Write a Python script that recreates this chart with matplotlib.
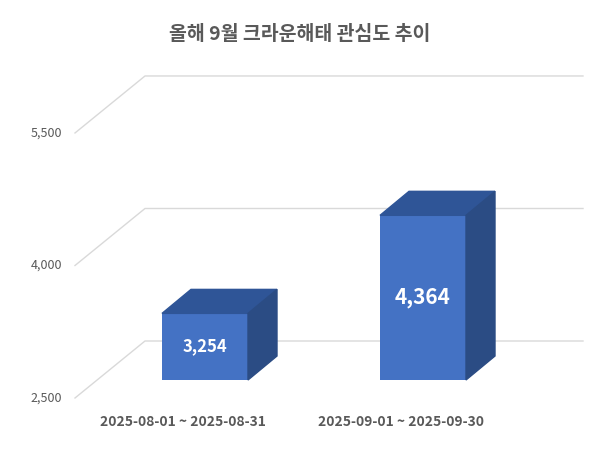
import matplotlib
matplotlib.use("Agg")
import matplotlib.pyplot as plt
from matplotlib.patches import Polygon

plt.rcParams['font.family'] = ['Noto Sans CJK KR', 'DejaVu Sans']

categories = ["2025-08-01 ~ 2025-08-31", "2025-09-01 ~ 2025-09-30"]
values = [3254, 4364]
tick_values = [2500, 4000, 5500]
title = "올해 9월 크라운해태 관심도 추이"

# layout in pixel-like x units, value units on y
upp = 11.32            # value units per pixel
base = 2500
fig = plt.figure(figsize=(6.0, 4.53), dpi=100)
ax = fig.add_axes([0, 0, 1, 1])
ax.set_xlim(0, 600)
ax.set_ylim(base - 55 * upp, base + 398 * upp)
ax.axis('off')

# perspective gridlines
gdx, gdy = 70, 57 * upp
for v in tick_values:
    ax.plot([75, 75 + gdx, 583], [v, v + gdy, v + gdy], color='#d9d9d9', lw=1, zorder=1)
    ax.text(62, v, f"{v:,}", ha='right', va='center', fontsize=9, color='#595959')

xpos = [205, 423]
width = 86
bdx, bdy = 29, 24 * upp
shift = 18 * upp
front, top, side = '#4472C4', '#2F5597', '#2B4C84'
for x, v, lab in zip(xpos, values, categories):
    y0, y1 = base + shift, v + shift
    ax.bar(x, y1 - y0, bottom=y0, width=width, color=front, zorder=3)
    l, r = x - width / 2, x + width / 2
    ax.add_patch(Polygon([(l, y1), (r, y1), (r + bdx, y1 + bdy), (l + bdx, y1 + bdy)],
                         closed=True, color=top, zorder=3))
    ax.add_patch(Polygon([(r, y0), (r + bdx, y0 + bdy), (r + bdx, y1 + bdy), (r, y1)],
                         closed=True, color=side, zorder=3))
    ax.text(x, (y0 + y1) / 2, f"{v:,}", ha='center', va='center', color='white',
            fontsize=15 if v > 4000 else 12, fontweight='bold', zorder=4)
    ax.text(x - 22, base - 24 * upp, lab, ha='center', va='center', color='#595959',
            fontsize=10, fontweight='bold')

fig.text(0.5, 1 - 35 / 453, title, ha='center', va='center', fontsize=14,
         fontweight='bold', color='#595959')

fig.savefig("out.png", dpi=100)
